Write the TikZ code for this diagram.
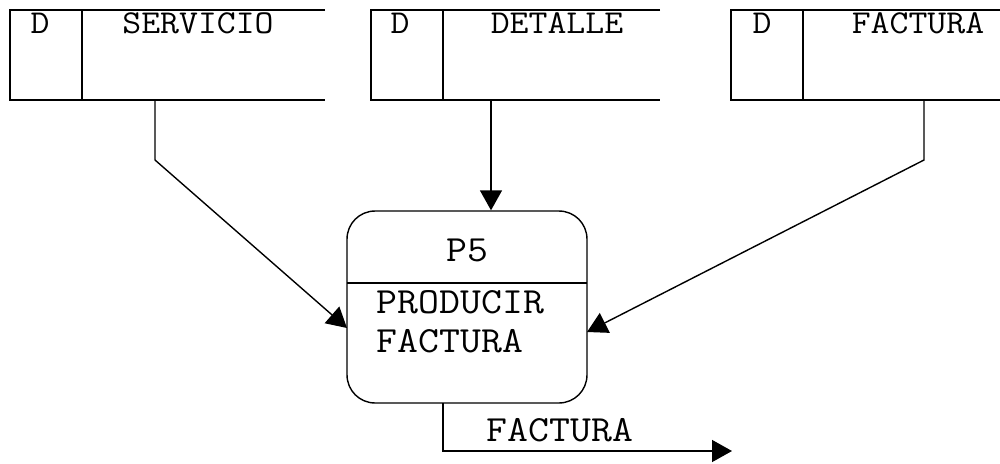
\documentclass[tikz,border=0pt]{standalone}
\usepackage{fontspec}
\setmonofont[FakeStretch=1.1]{Latin Modern Mono}
\usetikzlibrary{arrows.meta}
\tikzset{
  etiq/.style={font=\ttfamily\fontsize{21}{22}\selectfont, inner sep=0pt},
  almtxt/.style={font=\ttfamily\fontsize{19}{21}\selectfont, inner sep=0pt},
}
\begin{document}
\begin{tikzpicture}[x=0.02cm, y=-0.02cm, line width=0.8pt,
    >={Triangle[length=0.4cm,width=0.44cm]}]
  \useasboundingbox (0,0) rectangle (1000,463);
  % almacenes de datos
  \draw (325,10) -- (10,10) -- (10,100) -- (325,100);
  \draw (82,10) -- (82,100);
  \draw (660,10) -- (371,10) -- (371,100) -- (660,100);
  \draw (443,10) -- (443,100);
  \draw (1000,10) -- (731,10) -- (731,100) -- (1000,100);
  \draw (803,10) -- (803,100);
  \node[almtxt] (D1) at (40,23) {D};
  \node[almtxt] (servicio) at (198,23) {SERVICIO};
  \node[almtxt] (D2) at (400,23) {D};
  \node[almtxt] (detalle) at (557,23) {DETALLE};
  \node[almtxt] (D3) at (762,23) {D};
  \node[almtxt] (factura) at (918,23) {FACTURA};
  % proceso
  \node[draw, rounded corners=0.56cm, minimum width=4.8cm, minimum height=3.84cm,
        inner sep=0pt] (P5box) at (467,307) {};
  \coordinate (divL) at (347,283);
  \coordinate (divR) at (587,283);
  \draw (divL) -- (divR);
  \node[etiq] (P5) at (467,250) {P5};
  \node[etiq, anchor=west, align=left] (prod) at (376,322) {PRODUCIR\\FACTURA};
  % flujos de entrada
  \coordinate (s1) at (155,100);
  \coordinate (k1) at (155,160);
  \coordinate (in1) at (347,328);
  \coordinate (s2) at (491,100);
  \coordinate (s3) at (924,100);
  \coordinate (k3) at (924,160);
  \coordinate (in3) at (587,332);
  \draw[->] (s1) -- (k1) -- (in1);
  \draw[->] (s2) -- (P5box.north -| s2);
  \draw[->] (s3) -- (k3) -- (in3);
  % flujo de salida
  \coordinate (o1) at (443,403);
  \coordinate (o2) at (443,451);
  \coordinate (o3) at (732,451);
  \draw[->] (o1) -- (o2) -- (o3);
  \node[etiq] (fsal) at (560,430) {FACTURA};
\end{tikzpicture}
\end{document}
